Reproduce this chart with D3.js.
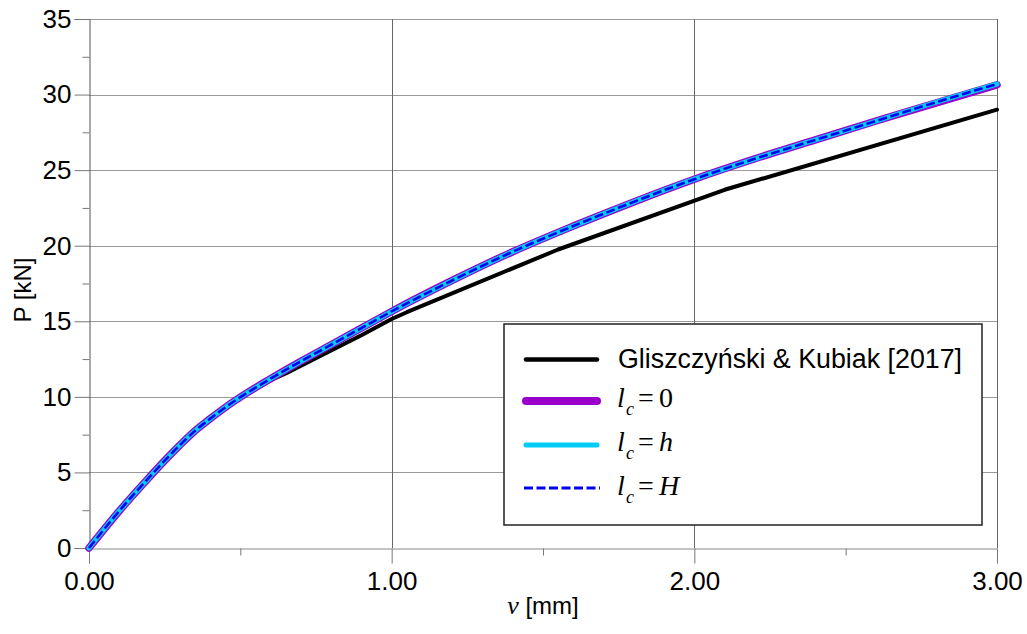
<!DOCTYPE html>
<html>
<head>
<meta charset="utf-8">
<script src="https://cdn.jsdelivr.net/npm/d3@7"></script>
<style>
  html, body { margin: 0; padding: 0; background: #fff; }
  svg { display: block; }
</style>
</head>
<body>
<svg id="chart" width="1027" height="634"></svg>
<script>
// ---- data ----
const expV  = [0, 0.05, 0.1, 0.15, 0.2, 0.25, 0.3, 0.35, 0.4, 0.45, 0.5, 0.55, 0.6, 0.65, 0.8, 0.9, 1.0, 1.05, 1.55, 2.1, 3.0];
const expP  = [0, 1.24, 2.45, 3.6, 4.7, 5.78, 6.8, 7.75, 8.55, 9.3, 9.95, 10.55, 11.1, 11.55, 13.07, 14.08, 15.15, 15.6, 19.75, 23.7, 29.0];

const numV  = [0, 0.1, 0.2, 0.25, 0.3, 0.35, 0.4, 0.45, 0.5, 0.6, 0.7, 0.8, 0.9, 1.0, 1.2, 1.4, 1.6, 1.8, 2.0, 2.2, 2.4, 2.6, 2.8, 3.0];
const lc0   = [0, 2.45, 4.7, 5.78, 6.8, 7.75, 8.55, 9.3, 9.98, 11.2, 12.35, 13.45, 14.55, 15.65, 17.7, 19.6, 21.3, 22.9, 24.4, 25.75, 27.0, 28.25, 29.45, 30.65];
const lch   = [0, 2.45, 4.7, 5.78, 6.8, 7.75, 8.55, 9.3, 9.98, 11.2, 12.35, 13.45, 14.55, 15.65, 17.7, 19.6, 21.3, 22.9, 24.4, 25.75, 27.0, 28.25, 29.5, 30.7];
const lcH   = [0, 2.45, 4.7, 5.78, 6.8, 7.75, 8.55, 9.3, 9.98, 11.2, 12.35, 13.45, 14.55, 15.65, 17.7, 19.6, 21.3, 22.9, 24.4, 25.75, 27.0, 28.25, 29.5, 30.7];

const xMajor = [0, 1, 2, 3];
const xMinor = [0.5, 1.5, 2.5];
const yMajor = [0, 5, 10, 15, 20, 25, 30, 35];
const yMinor = [2.5, 7.5, 12.5, 17.5, 22.5, 27.5, 32.5];

const legendLabels = ["Gliszczyński & Kubiak [2017]", "0", "h", "H"];

// ---- layout ----
const svg = d3.select("#chart");
const L = 89, R = 997, T = 19, B = 548;
const x = d3.scaleLinear().domain([0, 3]).range([L, R]);
const y = d3.scaleLinear().domain([0, 35]).range([B, T]);
const SANS = "'Liberation Sans', Arial, sans-serif";
const SERIF = "'Liberation Serif', 'Times New Roman', serif";

// grid
const grid = svg.append("g");
grid.selectAll("line.h").data(yMajor.filter(d => d > 0)).join("line")
  .attr("x1", L).attr("x2", R)
  .attr("y1", d => Math.round(y(d)) + 0.5).attr("y2", d => Math.round(y(d)) + 0.5)
  .attr("stroke", "#9a9a9a").attr("stroke-width", 1);
grid.selectAll("line.v").data(xMajor.filter(d => d > 0)).join("line")
  .attr("x1", d => Math.round(x(d)) + 0.5).attr("x2", d => Math.round(x(d)) + 0.5)
  .attr("y1", T).attr("y2", B)
  .attr("stroke", "#666").attr("stroke-width", 1);

// axes
const xAxis = svg.append("g").attr("transform", `translate(0,${B + 0.5})`)
  .call(d3.axisBottom(x).tickValues(xMajor).tickSize(15).tickPadding(8).tickFormat(d3.format(".2f")));
const xAxisMinor = svg.append("g").attr("transform", `translate(0,${B + 0.5})`)
  .call(d3.axisBottom(x).tickValues(xMinor).tickSize(7).tickFormat(""));
const yAxis = svg.append("g").attr("transform", `translate(${L + 0.5},0)`)
  .call(d3.axisLeft(y).tickValues(yMajor).tickSize(15).tickPadding(3).tickFormat(d3.format("d")));
const yAxisMinor = svg.append("g").attr("transform", `translate(${L + 0.5},0)`)
  .call(d3.axisLeft(y).tickValues(yMinor).tickSize(7).tickFormat(""));

[xAxis, xAxisMinor, yAxis, yAxisMinor].forEach(g => {
  g.selectAll("text").attr("font-family", SANS).attr("font-size", 26).attr("fill", "#000");
  g.selectAll(".tick line").attr("stroke", "#777");
});
xAxis.select(".domain").attr("stroke", "#888");
xAxisMinor.select(".domain").remove();
yAxis.select(".domain").attr("stroke", "#555");
yAxisMinor.select(".domain").remove();

// axis titles
const xt = svg.append("text").attr("x", 543).attr("y", 614).attr("text-anchor", "middle")
  .attr("font-family", SANS).attr("font-size", 24).attr("fill", "#000");
xt.append("tspan").attr("font-family", SERIF).attr("font-style", "italic").attr("font-size", 26).text("v");
xt.append("tspan").text(" [mm]");

svg.append("text").attr("transform", "translate(31,290) rotate(-90)").attr("text-anchor", "middle")
  .attr("font-family", SANS).attr("font-size", 24).attr("fill", "#000").text("P [kN]");

// curves
const plot = svg.append("g");
const expData = expV.map((v, i) => [v, expP[i]]);
const mk = arr => numV.map((v, i) => [v, arr[i]]);
const lineLin = d3.line().x(d => x(d[0])).y(d => y(d[1]));
const lineSmooth = d3.line().x(d => x(d[0])).y(d => y(d[1])).curve(d3.curveMonotoneX);

plot.append("path").attr("d", lineLin(expData)).attr("fill", "none")
  .attr("stroke", "#000").attr("stroke-width", 4).attr("stroke-linecap", "round").attr("stroke-linejoin", "round");
plot.append("path").attr("d", lineSmooth(mk(lc0))).attr("fill", "none")
  .attr("stroke", "#9900cc").attr("stroke-width", 7.5).attr("stroke-linecap", "round");
plot.append("path").attr("d", lineSmooth(mk(lch))).attr("fill", "none")
  .attr("stroke", "#00ccf5").attr("stroke-width", 5).attr("stroke-linecap", "round");
plot.append("path").attr("d", lineSmooth(mk(lcH))).attr("fill", "none")
  .attr("stroke", "#0000f0").attr("stroke-width", 2.6).attr("stroke-dasharray", "9,3.5");

// legend
const lg = svg.append("g");
lg.append("rect").attr("x", 504).attr("y", 324).attr("width", 478).attr("height", 201)
  .attr("fill", "#fff").attr("stroke", "#222").attr("stroke-width", 1.5);
const rowsY = [359.5, 401, 445, 488];
const styles = [
  {c: "#000", w: 4.5, dash: null},
  {c: "#9900cc", w: 8, dash: null},
  {c: "#00ccf5", w: 5, dash: null},
  {c: "#0000f0", w: 3, dash: "9,3.5"}
];
styles.forEach((s, i) => {
  const ln = lg.append("line").attr("x1", 526).attr("x2", 597).attr("y1", rowsY[i]).attr("y2", rowsY[i])
    .attr("stroke", s.c).attr("stroke-width", s.w);
  if (s.dash) ln.attr("stroke-dasharray", s.dash).attr("x1", 524).attr("x2", 600);
  else ln.attr("stroke-linecap", "round");
});
lg.append("text").attr("x", 618).attr("y", 368).attr("font-family", SANS).attr("font-size", 26.8)
  .attr("fill", "#000").text(legendLabels[0]);
const baseY = [407, 451, 495];
for (let i = 1; i < 4; i++) {
  const t = lg.append("text").attr("y", baseY[i - 1]).attr("font-family", SERIF).attr("font-size", 28).attr("fill", "#000");
  t.append("tspan").attr("x", 617).attr("font-style", "italic").text("l");
  t.append("tspan").attr("x", 626).attr("dy", 8).attr("font-style", "italic").attr("font-size", 18).text("c");
  t.append("tspan").attr("x", 638).attr("dy", -8).text("=");
  t.append("tspan").attr("x", 659).attr("font-style", i === 1 ? "normal" : "italic").text(legendLabels[i]);
}
</script>
</body>
</html>
